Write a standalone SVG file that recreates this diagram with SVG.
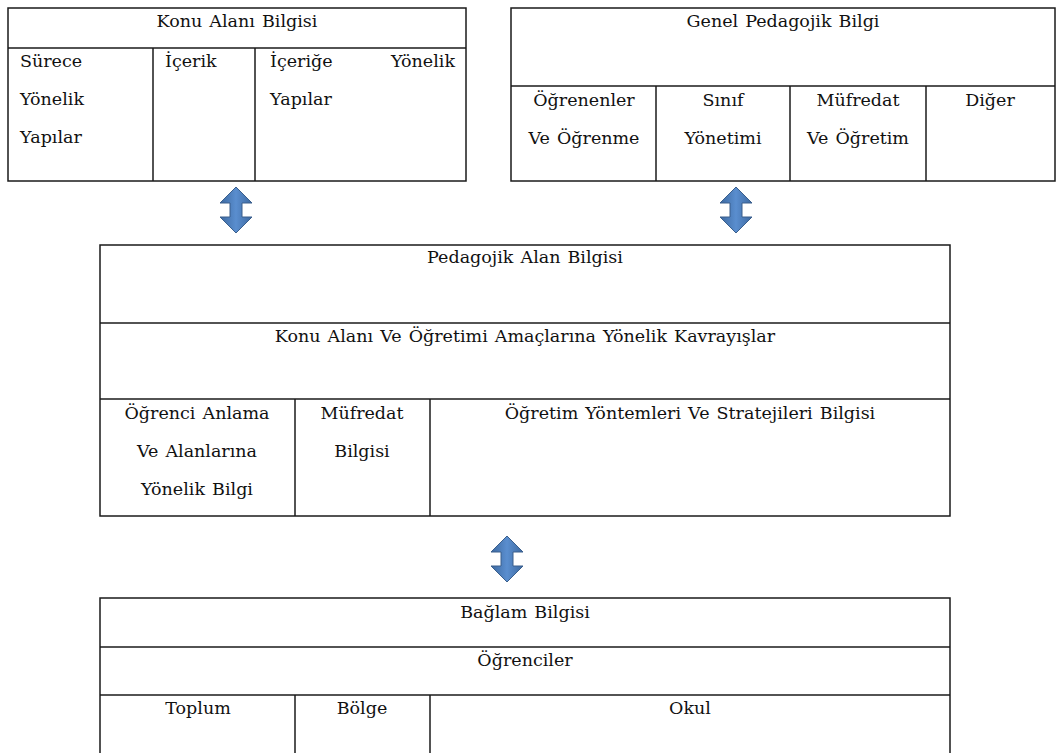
<svg xmlns="http://www.w3.org/2000/svg" width="1057" height="753" viewBox="0 0 1057 753">
<style>
.b{fill:#fff;stroke:#1a1a1a;stroke-width:1.5}
.l{stroke:#1a1a1a;stroke-width:1.5;fill:none}
.t{font-family:"DejaVu Serif","Liberation Serif",serif;font-size:17.5px;word-spacing:1.5px;fill:#111}
.c{text-anchor:middle}
.e{text-anchor:end}
.arr{fill:url(#ag);stroke:#3a5f8c;stroke-width:1}
</style>
<defs>
<linearGradient id="ag" x1="0" y1="0" x2="1" y2="0">
<stop offset="0" stop-color="#3d69a0"/>
<stop offset="0.5" stop-color="#5a8ecf"/>
<stop offset="1" stop-color="#3d69a0"/>
</linearGradient>
<path id="dbl" d="M0,-23 L16,-7 L6,-7 L6,7 L16,7 L0,23 L-16,7 L-6,7 L-6,-7 L-16,-7 Z"/>
</defs>
<rect width="1057" height="753" fill="#fff"/>

<g id="konu-alani" class="t">
<rect class="b" x="8" y="8" width="458" height="173"/>
<line class="l" x1="8" y1="48" x2="466" y2="48"/>
<line class="l" x1="153" y1="48" x2="153" y2="181"/>
<line class="l" x1="255" y1="48" x2="255" y2="181"/>
<text class="c" x="237" y="27">Konu Alanı Bilgisi</text>
<text x="20" y="67">Sürece</text>
<text x="20" y="105">Yönelik</text>
<text x="20" y="143">Yapılar</text>
<text x="165" y="67">İçerik</text>
<text x="270" y="67">İçeriğe</text>
<text class="e" x="455" y="67">Yönelik</text>
<text x="270" y="105">Yapılar</text>
</g>

<g id="genel-pedagojik" class="t">
<rect class="b" x="511" y="8" width="544" height="173"/>
<line class="l" x1="511" y1="86" x2="1055" y2="86"/>
<line class="l" x1="656" y1="86" x2="656" y2="181"/>
<line class="l" x1="790" y1="86" x2="790" y2="181"/>
<line class="l" x1="926" y1="86" x2="926" y2="181"/>
<text class="c" x="783" y="27">Genel Pedagojik Bilgi</text>
<text class="c" x="584" y="106">Öğrenenler</text>
<text class="c" x="584" y="144">Ve Öğrenme</text>
<text class="c" x="723" y="106">Sınıf</text>
<text class="c" x="723" y="144">Yönetimi</text>
<text class="c" x="858" y="106">Müfredat</text>
<text class="c" x="858" y="144">Ve Öğretim</text>
<text class="c" x="990" y="106">Diğer</text>
</g>

<g id="connectors">
<use href="#dbl" class="arr" x="236" y="210"/>
<use href="#dbl" class="arr" x="736" y="210"/>
<use href="#dbl" class="arr" x="507" y="559"/>
</g>

<g id="pedagojik-alan" class="t">
<rect class="b" x="100" y="245" width="850" height="271"/>
<line class="l" x1="100" y1="323" x2="950" y2="323"/>
<line class="l" x1="100" y1="399" x2="950" y2="399"/>
<line class="l" x1="295" y1="399" x2="295" y2="516"/>
<line class="l" x1="430" y1="399" x2="430" y2="516"/>
<text class="c" x="525" y="263">Pedagojik Alan Bilgisi</text>
<text class="c" x="525" y="342">Konu Alanı Ve Öğretimi Amaçlarına Yönelik Kavrayışlar</text>
<text class="c" x="197" y="419">Öğrenci Anlama</text>
<text class="c" x="197" y="457">Ve Alanlarına</text>
<text class="c" x="197" y="495">Yönelik Bilgi</text>
<text class="c" x="362" y="419">Müfredat</text>
<text class="c" x="362" y="457">Bilgisi</text>
<text class="c" x="690" y="419">Öğretim Yöntemleri Ve Stratejileri Bilgisi</text>
</g>

<g id="baglam" class="t">
<rect class="b" x="100" y="598" width="850" height="170"/>
<line class="l" x1="100" y1="647" x2="950" y2="647"/>
<line class="l" x1="100" y1="695" x2="950" y2="695"/>
<line class="l" x1="295" y1="695" x2="295" y2="768"/>
<line class="l" x1="430" y1="695" x2="430" y2="768"/>
<text class="c" x="525" y="618">Bağlam Bilgisi</text>
<text class="c" x="525" y="666">Öğrenciler</text>
<text class="c" x="198" y="714">Toplum</text>
<text class="c" x="362" y="714">Bölge</text>
<text class="c" x="690" y="714">Okul</text>
</g>
</svg>
